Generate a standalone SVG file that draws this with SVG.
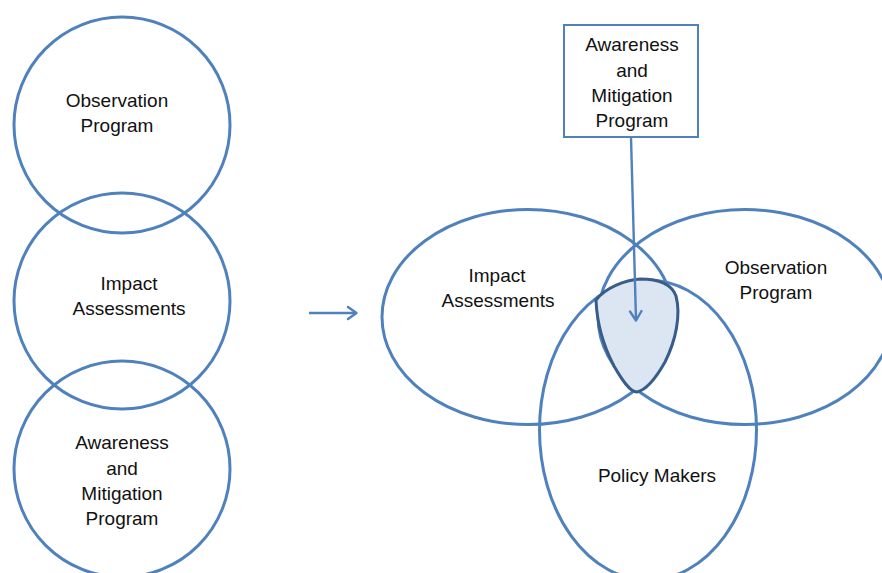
<svg xmlns="http://www.w3.org/2000/svg" width="882" height="573" viewBox="0 0 882 573">
  <defs>
    <style>
      .ring { fill: none; stroke: #4f81bd; stroke-width: 3; }
      .lbl { font-family: "Liberation Sans", Arial, sans-serif; font-size: 19px; fill: #111111; text-anchor: middle; }
      .wire { fill: none; stroke: #4f81bd; stroke-width: 2.4; }
      .head { fill: none; stroke: #4f81bd; stroke-width: 2.4; stroke-linecap: round; stroke-linejoin: round; }
    </style>
  </defs>

  <rect width="882" height="573" fill="#ffffff"/>

  <!-- Left column: separate programs -->
  <g id="left-observation">
    <circle class="ring" cx="122" cy="125" r="108"/>
    <text class="lbl" x="117" y="107">Observation</text>
    <text class="lbl" x="117" y="132">Program</text>
  </g>
  <g id="left-impact">
    <circle class="ring" cx="122" cy="301" r="108"/>
    <text class="lbl" x="129" y="290">Impact</text>
    <text class="lbl" x="129" y="315">Assessments</text>
  </g>
  <g id="left-awareness">
    <circle class="ring" cx="122" cy="469" r="108"/>
    <text class="lbl" x="122" y="449">Awareness</text>
    <text class="lbl" x="122" y="475">and</text>
    <text class="lbl" x="122" y="500">Mitigation</text>
    <text class="lbl" x="122" y="525">Program</text>
  </g>

  <!-- Right side: overlapping sets -->
  <g id="right-impact">
    <ellipse class="ring" cx="528" cy="317" rx="146" ry="107.5"/>
    <text class="lbl" x="497" y="282">Impact</text>
    <text class="lbl" x="498" y="307">Assessments</text>
  </g>
  <g id="right-observation">
    <ellipse class="ring" cx="745" cy="317" rx="147" ry="107.5"/>
    <text class="lbl" x="776" y="274">Observation</text>
    <text class="lbl" x="776" y="299">Program</text>
  </g>
  <g id="right-policy">
    <ellipse class="ring" cx="648" cy="430" rx="108.5" ry="150"/>
    <text class="lbl" x="657" y="482">Policy Makers</text>
  </g>

  <!-- Shared core of the three sets -->
  <g id="core">
    <path d="M596,300 C605,288 625,280 640,279 C660,279 672,285 676,296 C681,315 676,340 665,362 C656,378 646,390 637,392 C630,392 622,380 614,366 C603,345 597,325 596,300 Z"
          fill="#dce6f2" stroke="#385d8a" stroke-width="3" stroke-linejoin="round"/>
  </g>

  <g id="awareness-box">
    <rect x="564" y="25" width="134" height="112" fill="#ffffff" stroke="#4f81bd" stroke-width="2"/>
    <text class="lbl" x="632" y="51">Awareness</text>
    <text class="lbl" x="632" y="77">and</text>
    <text class="lbl" x="632" y="102">Mitigation</text>
    <text class="lbl" x="632" y="127">Program</text>
  </g>

  <!-- Connectors -->
  <g id="connectors">
    <line class="wire" x1="309" y1="313" x2="356" y2="313"/>
    <polyline class="head" points="348,307 356.5,313 348,319"/>
    <line class="wire" x1="631" y1="137" x2="636" y2="320"/>
    <polyline class="head" points="630,311.5 636,320.5 641.5,311"/>
  </g>
</svg>
